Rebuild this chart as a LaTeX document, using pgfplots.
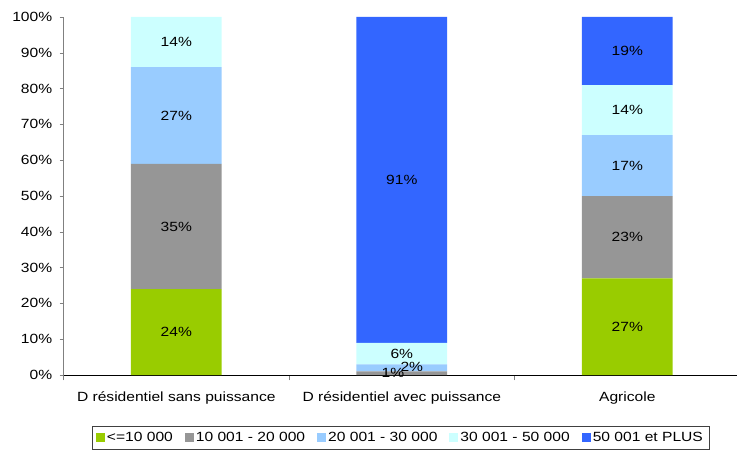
\documentclass[border=0pt]{standalone}
\usepackage{pgfplots}
\pgfplotsset{compat=1.18}
\usepackage{pgfplotstable}
\usepackage{fontspec}
\setmainfont{Liberation Sans}[FakeStretch=1.17]
\definecolor{cA}{HTML}{99CC00}
\definecolor{cB}{HTML}{969696}
\definecolor{cC}{HTML}{99CCFF}
\definecolor{cD}{HTML}{CCFFFF}
\definecolor{cE}{HTML}{3366FF}
\definecolor{axgray}{HTML}{808080}

\pgfplotstableread{
x y dx dy lbl
0 24 0 0 24\%
1 0 0 0 {}
2 27 0 0 27\%
}\tA
\pgfplotstableread{
x y dx dy lbl
0 35 0 0 35\%
1 1 -6.6 0 1\%
2 23 0 0 23\%
}\tB
\pgfplotstableread{
x y dx dy lbl
0 27 0 0 27\%
1 2 7.5 0.4 2\%
2 17 0 0 17\%
}\tC
\pgfplotstableread{
x y dx dy lbl
0 14 0 0 14\%
1 6 0 0 6\%
2 14 0 0 14\%
}\tD
\pgfplotstableread{
x y dx dy lbl
0 0 0 0 {}
1 91 0 0 91\%
2 19 0 0 19\%
}\tE

\begin{document}
\begin{tikzpicture}
\path[use as bounding box] (-47.66pt,-56.25pt) rectangle (505.09pt,281.25pt);
\begin{axis}[
  x=169.125pt, y=2.685pt,
  xmin=-0.5, xmax=2.486, ymin=0, ymax=100,
  ybar stacked, bar width=68pt,
  clip=false,
  axis x line*=bottom, axis y line*=left,
  x axis line style={draw=black, -},
  y axis line style={draw=axgray, -},
  tick align=outside,
  major tick length=3pt,
  minor tick length=4pt,
  ytick={0,10,...,100},
  yticklabel={\pgfmathprintnumber{\tick}\%},
  ytick style={draw=axgray},
  xtick={0,1,2},
  xticklabels={D résidentiel sans puissance, D résidentiel avec puissance, Agricole},
  major x tick style={draw=none},
  minor xtick={-0.5,0.5,1.5},
  minor x tick style={draw=axgray},
  /pgf/number format/assume math mode=true,
  tick label style={font=\fontsize{10}{12}\selectfont},
  yticklabel style={xshift=-2pt},
  xticklabel style={yshift=-6pt},
  legend style={at={(0.5003,-0.1746)}, anchor=center, legend columns=5,
    draw=black!75, font=\fontsize{10}{12}\selectfont, inner xsep=3pt, inner ysep=3pt,
    nodes={inner sep=1.5pt},
    /tikz/every odd column/.append style={column sep=0pt},
    /tikz/every even column/.append style={column sep=7.5pt}},
  legend cell align=left,
  legend image code/.code={\fill[#1,draw=none] (0pt,-3.375pt) rectangle (6.75pt,3.375pt);},
  nodes near coords,
  point meta=explicit symbolic,
  visualization depends on={\thisrow{dx} \as \dxv},
  visualization depends on={\thisrow{dy} \as \dyv},
  every node near coord/.append style={anchor=center, text=black,
    font=\fontsize{10}{12}\selectfont, inner sep=2pt,
    xshift={\dxv*1pt}, yshift={\dyv*2.685pt}},
]
\addplot[fill=cA, draw=none] table[x=x, y=y, meta=lbl] {\tA};
\addlegendentry{<=10 000}
\addplot[fill=cB, draw=none] table[x=x, y=y, meta=lbl] {\tB};
\addlegendentry{10 001 - 20 000}
\addplot[fill=cC, draw=none] table[x=x, y=y, meta=lbl] {\tC};
\addlegendentry{20 001 - 30 000}
\addplot[fill=cD, draw=none] table[x=x, y=y, meta=lbl] {\tD};
\addlegendentry{30 001 - 50 000}
\addplot[fill=cE, draw=none] table[x=x, y=y, meta=lbl] {\tE};
\addlegendentry{50 001 et PLUS}
\end{axis}
\end{tikzpicture}
\end{document}
